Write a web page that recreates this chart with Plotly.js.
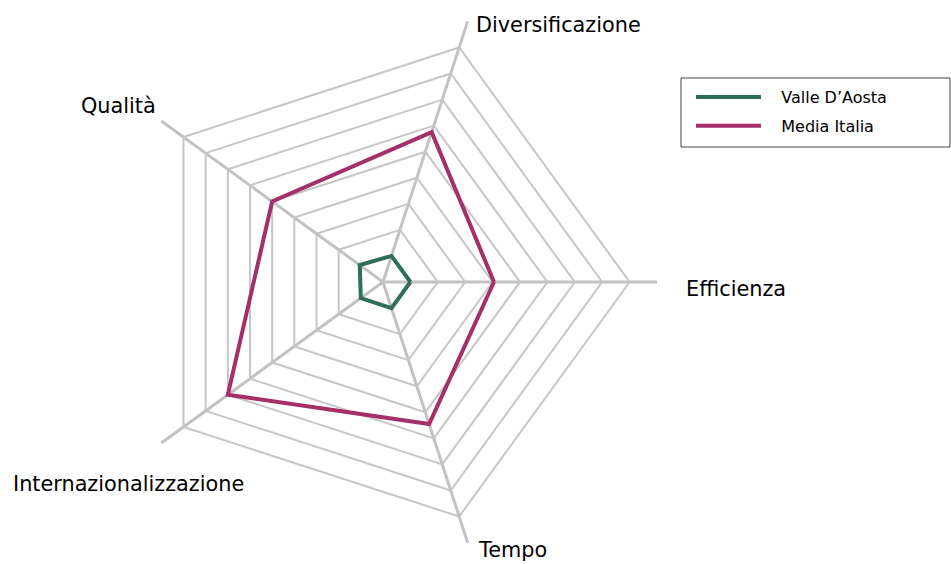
<!DOCTYPE html>
<html>
<head>
<meta charset="utf-8">
<script src="https://cdn.plot.ly/plotly-3.0.1.min.js"></script>
<style>html,body{margin:0;padding:0;background:#fff;}#chart{width:951px;height:564px;}</style>
</head>
<body>
<div id="chart"></div>
<script>
const categories = ["Efficienza", "Diversificazione", "Qualità", "Internazionalizzazione", "Tempo"];
const valleDAosta = [1.0, 1.0, 1.05, 1.0, 1.0];
const mediaItalia = [4.05, 5.75, 5.0, 7.0, 5.45];
const seriesNames = ["Valle D\u2019Aosta", "Media Italia"];
const ringTicks = [1, 2, 3, 4, 5, 6, 7, 8, 9];
// label positions (paper px: left x, vertical middle y) for the category names
const labelX = [684, 474, 79, 11, 476];
const labelY = [289, 25, 106, 484, 550];

function closed(a) { return a.concat([a[0]]); }

const traces = [
  {type: "scatterpolar", mode: "lines", name: "\u00a0\u00a0\u00a0" + seriesNames[0], legendgroup: "a",
   r: closed(valleDAosta), theta: closed(categories),
   line: {color: "#2F6F57", width: 4}},
  {type: "scatterpolar", mode: "lines", name: "\u00a0\u00a0\u00a0" + seriesNames[1], legendgroup: "b",
   r: closed(mediaItalia), theta: closed(categories),
   line: {color: "#A52F68", width: 4}}
];

const W = 951, H = 564;
const annotations = categories.map((c, i) => ({
  text: c, xref: "paper", yref: "paper", showarrow: false,
  x: labelX[i] / W, y: 1 - labelY[i] / H, xanchor: "left", yanchor: "middle",
  font: {size: 20.8, color: "#000", family: "DejaVu Sans, sans-serif"}
}));

const layout = {
  width: W, height: H,
  margin: {l: 0, r: 0, t: 0, b: 0},
  paper_bgcolor: "#fff",
  showlegend: true,
  font: {family: "DejaVu Sans, sans-serif", color: "#000"},
  polar: {
    domain: {x: [109/W, 657/W], y: [8/H, 556/H]},
    bgcolor: "rgba(0,0,0,0)",
    gridshape: "linear",
    radialaxis: {range: [0, 10], tickvals: ringTicks, showticklabels: false, ticks: "",
                 showline: false, gridcolor: "#C6C6C6", gridwidth: 2},
    angularaxis: {direction: "counterclockwise", rotation: 0, showline: false, ticks: "",
                  showticklabels: false, gridcolor: "#C2C2C2", gridwidth: 2.7}
  },
  annotations: annotations,
  legend: {x: 691/W, y: 1 - 80/H, xanchor: "left", yanchor: "top",
           bgcolor: "rgba(0,0,0,0)", borderwidth: 0, itemwidth: 65, tracegroupgap: 5,
           font: {size: 16, family: "DejaVu Sans, sans-serif", color: "#000"}},
  shapes: [{type: "rect", xref: "paper", yref: "paper",
            x0: 681/W, x1: 950/W, y0: 1 - 147/H, y1: 1 - 78/H,
            line: {color: "#444", width: 1}, fillcolor: "rgba(0,0,0,0)"}]
};

Plotly.newPlot("chart", traces, layout, {displayModeBar: false});
</script>
</body>
</html>
